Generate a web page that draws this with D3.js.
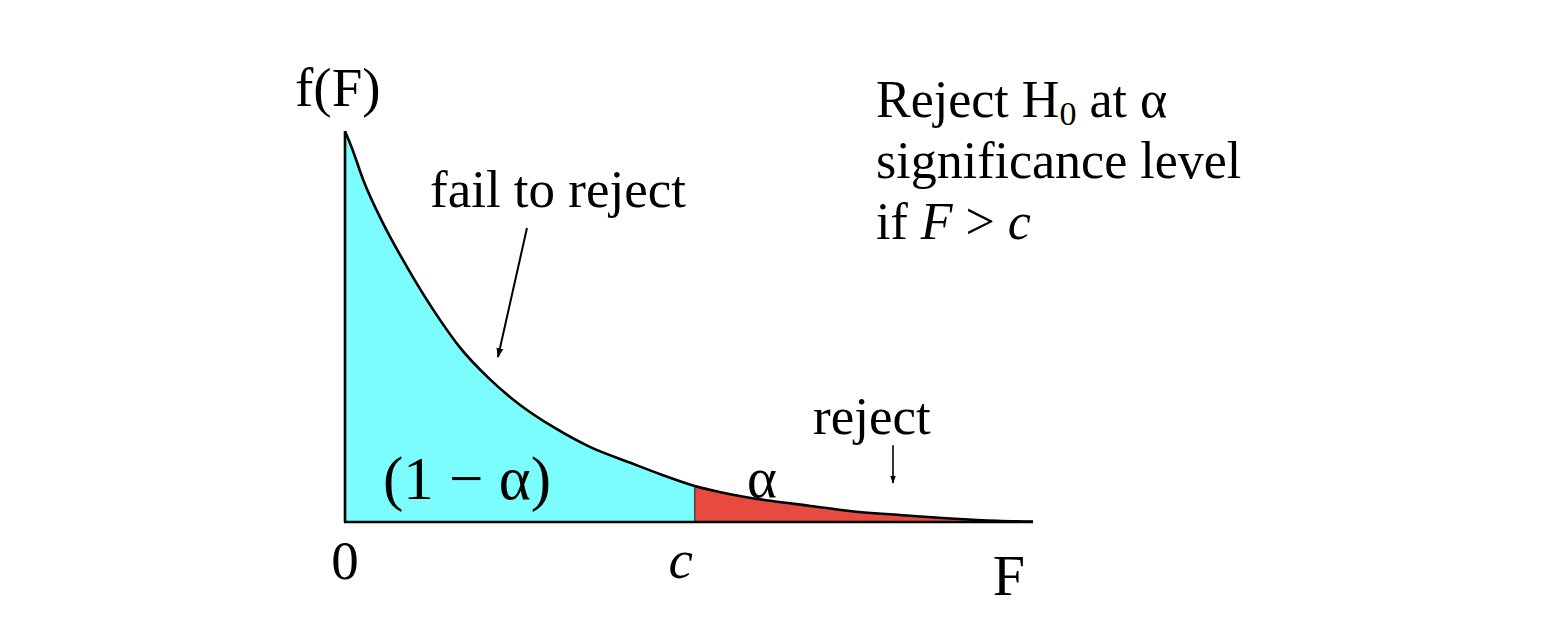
<!DOCTYPE html>
<head>
<meta http-equiv="Content-type" content="text/html;charset=UTF-8">
</head>
<style>
body { margin: 0; background: #fff; }
text { font-family: "Liberation Serif", "Times New Roman", serif; fill: #000; }
</style>
<svg width="1564" height="622"></svg>
<script src="https://d3js.org/d3.v7.min.js"></script>
<script>

// F values and the density
var fValues = [0, 0.06, 0.16, 0.33, 0.54, 0.83, 1.0, 1.26, 1.53, 1.83, 2.14, 2.49, 2.75,
               3.05, 3.36, 3.71, 4.06, 4.40, 4.84, 5.28, 5.69, 6.0];
var density = [0.997, 0.954, 0.872, 0.763, 0.651, 0.515, 0.446, 0.365, 0.298, 0.240, 0.191, 0.151, 0.122,
               0.092, 0.071, 0.054, 0.041, 0.028, 0.018, 0.009, 0.003, 0.001];
var critical = 3.05;   // c
var tailEnd = 5.69;    // end of the shaded tail

var data = fValues.map(function(f, i) { return {f: f, d: density[i]}; });

var svg = d3.select("svg");

var x = d3.scaleLinear().domain([0, 6]).range([345, 1033]);
var y = d3.scaleLinear().domain([0, 1]).range([522, 130]);

var area = d3.area()
    .x(function(d) { return x(d.f); })
    .y0(y(0))
    .y1(function(d) { return y(d.d); })
    .curve(d3.curveMonotoneX);

var line = d3.line()
    .x(function(d) { return x(d.f); })
    .y(function(d) { return y(d.d); })
    .curve(d3.curveMonotoneX);

svg.append("defs").append("marker")
    .attr("id", "head")
    .attr("viewBox", "0 0 10 10")
    .attr("refX", 9).attr("refY", 5)
    .attr("markerWidth", 5).attr("markerHeight", 5)
    .attr("orient", "auto")
  .append("path")
    .attr("d", "M0,1.5L10,5L0,8.5z")
    .attr("fill", "#000");

// acceptance region
svg.append("path")
    .datum(data.filter(function(d) { return d.f <= critical; }))
    .attr("d", area)
    .attr("fill", "#7bfdfd");

// rejection region
svg.append("path")
    .datum(data.filter(function(d) { return d.f >= critical && d.f <= tailEnd; }))
    .attr("d", area)
    .attr("fill", "#e84a40");

svg.append("line")
    .attr("x1", x(critical)).attr("x2", x(critical))
    .attr("y1", y(0)).attr("y2", y(density[fValues.indexOf(critical)]))
    .attr("stroke", "#333")
    .attr("stroke-width", 1.2);

svg.append("path")
    .datum(data)
    .attr("d", line)
    .attr("fill", "none")
    .attr("stroke", "#000")
    .attr("stroke-width", 2.6);

// axes
svg.append("line")
    .attr("x1", x(0)).attr("x2", x(0))
    .attr("y1", y(0)).attr("y2", y(density[0]))
    .attr("stroke", "#000").attr("stroke-width", 2.6);

svg.append("line")
    .attr("x1", x(0) - 1).attr("x2", x(6))
    .attr("y1", y(0)).attr("y2", y(0))
    .attr("stroke", "#000").attr("stroke-width", 2.6);

// axis labels
svg.append("text").attr("x", x(0)).attr("y", 579)
    .attr("text-anchor", "middle").style("font-size", "55px").text("0");
svg.append("text").attr("x", x(critical) - 14).attr("y", 578)
    .attr("text-anchor", "middle").style("font-size", "55px").style("font-style", "italic").text("c");
svg.append("text").attr("x", 1009).attr("y", 595)
    .attr("text-anchor", "middle").style("font-size", "58px").text("F");
svg.append("text").attr("x", 295).attr("y", 106)
    .style("font-size", "55px").text("f(F)");

// region labels
svg.append("text").attr("x", 383).attr("y", 499)
    .style("font-size", "61px").text("(1 \u2212 \u03b1)");
svg.append("text").attr("x", 747).attr("y", 497)
    .style("font-size", "57px").text("\u03b1");

svg.append("text").attr("x", 430).attr("y", 207)
    .style("font-size", "53px").text("fail to reject");
svg.append("text").attr("x", 813).attr("y", 434)
    .style("font-size", "53px").text("reject");

// arrows
svg.append("line")
    .attr("x1", x(1.587)).attr("y1", y(0.75))
    .attr("x2", x(1.334)).attr("y2", y(0.421))
    .attr("stroke", "#000").attr("stroke-width", 2)
    .attr("marker-end", "url(#head)");

svg.append("line")
    .attr("x1", x(4.779)).attr("y1", y(0.196))
    .attr("x2", x(4.779)).attr("y2", y(0.0995))
    .attr("stroke", "#000").attr("stroke-width", 1.6)
    .attr("marker-end", "url(#head)");

// decision rule
var rule = svg.append("g").style("font-size", "52px");

var t1 = rule.append("text").attr("x", 876).attr("y", 117);
t1.append("tspan").text("Reject H");
t1.append("tspan").attr("dy", 8).style("font-size", "34px").text("0");
t1.append("tspan").attr("dy", -8).text(" at \u03b1");

rule.append("text").attr("x", 876).attr("y", 178).text("significance level");

var t3 = rule.append("text").attr("x", 876).attr("y", 239);
t3.append("tspan").text("if ");
t3.append("tspan").style("font-style", "italic").text("F");
t3.append("tspan").text(" > ");
t3.append("tspan").style("font-style", "italic").text("c");

</script>
